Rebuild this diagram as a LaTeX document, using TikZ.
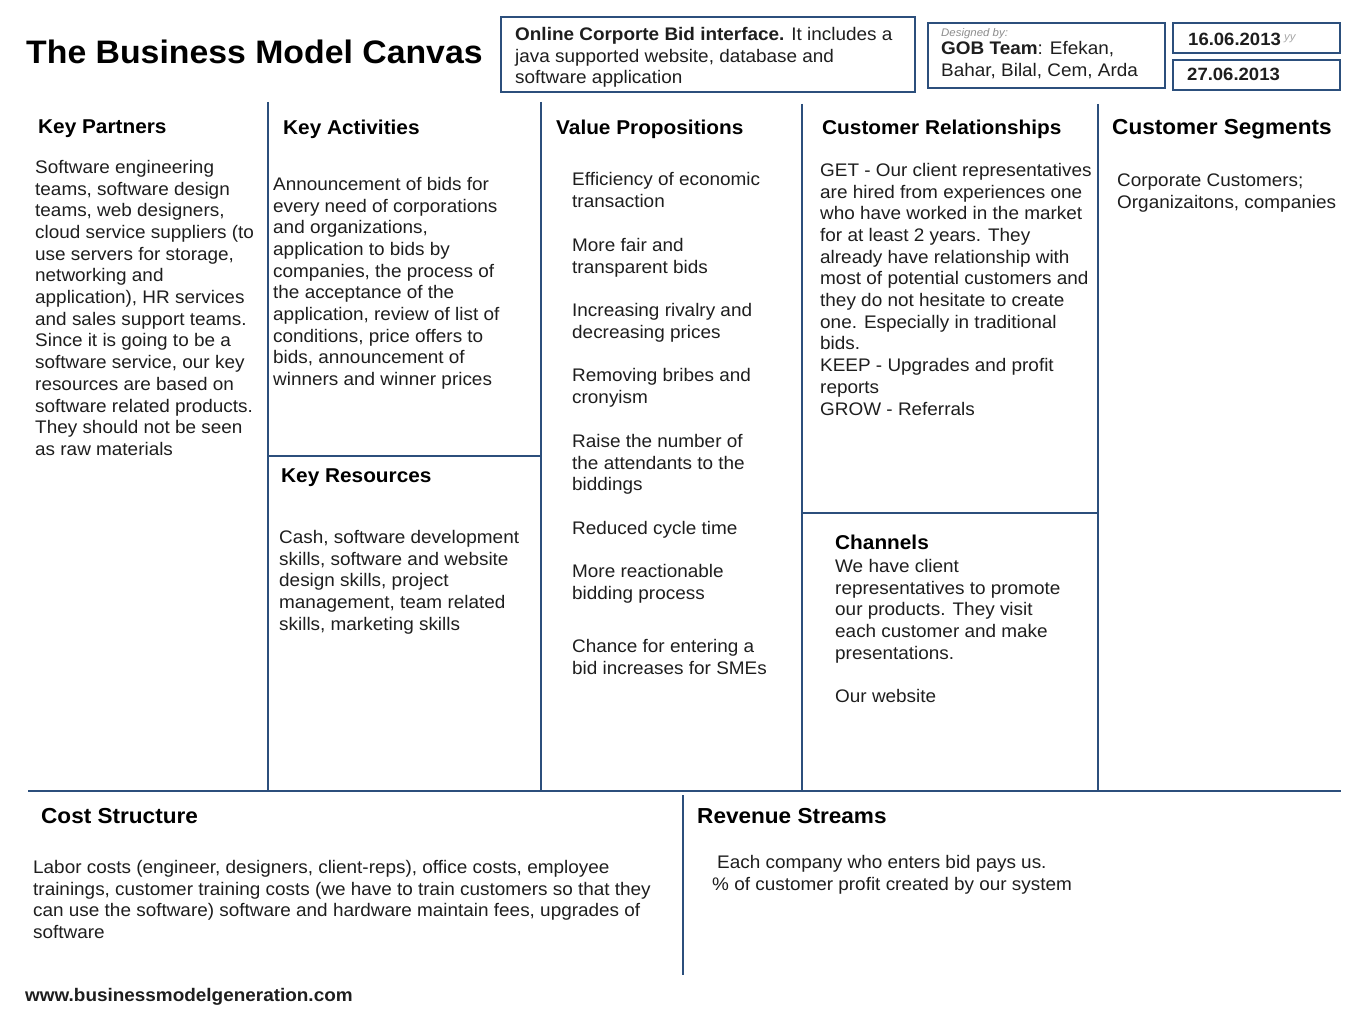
\documentclass[tikz,border=0pt]{standalone}
\usepackage{fontspec}
\setmainfont{Liberation Sans}[FakeStretch=1.04]
\definecolor{canvasline}{RGB}{44,79,124}
\definecolor{bodytext}{RGB}{30,30,30}
\begin{document}
\begin{tikzpicture}[x=1pt,y=-1pt,
  gridline/.style={draw=canvasline,line width=2.6pt},
  hbox/.style={draw=canvasline,line width=1.6pt},
  heading/.style={anchor=north west,inner sep=0pt,font=\fontsize{20}{24}\selectfont\bfseries,text=black},
  bigheading/.style={heading,font=\fontsize{21.7}{26}\selectfont\bfseries},
  body/.style={anchor=north west,inner sep=0pt,align=left,font=\fontsize{18.2}{21.7}\selectfont,text=bodytext},
  datetext/.style={anchor=north west,inner sep=0pt,font=\fontsize{17.8}{20}\selectfont\bfseries,text=bodytext}]
\useasboundingbox (0,0) rectangle (1365,1024);
\fill[white] (0,0) rectangle (1365,1024);

% title
\node[anchor=north west,inner sep=0pt,font=\fontsize{32.5}{38}\selectfont\bfseries] (title) at (26,40) {The Business Model Canvas};

% header boxes
\draw[hbox] (501,17) rectangle (915,92);
\node[body] (desc) at (515,27) {\textbf{Online Corporte Bid interface.} It includes a\\java supported website, database and\\software application};
\draw[hbox] (928,23) rectangle (1165,88);
\node[anchor=north west,inner sep=0pt,font=\fontsize{11}{12}\selectfont\itshape,text=black!45] (designed) at (941,28) {Designed by:};
\node[body] (team) at (941,41) {\textbf{GOB Team}: Efekan,\\Bahar, Bilal, Cem, Arda};
\draw[hbox] (1173,23) rectangle (1340,53);
\draw[hbox] (1173,60) rectangle (1340,90);
\node[anchor=north west,inner sep=0pt,font=\fontsize{11}{12}\selectfont\itshape,text=black!35] (ph1) at (1284,34) {yy};
\node[datetext] (d1) at (1188,33) {16.06.2013};
\node[datetext] (d2) at (1187,68) {27.06.2013};

% grid lines
\coordinate (v1t) at (268,102); \coordinate (v1b) at (268,791);
\coordinate (v2t) at (541,102); \coordinate (v2b) at (541,791);
\coordinate (v3t) at (802,104); \coordinate (v3b) at (802,791);
\coordinate (v4t) at (1098,104); \coordinate (v4b) at (1098,791);
\coordinate (hka) at (268,456); \coordinate (hkb) at (541,456);
\coordinate (hca) at (802,513); \coordinate (hcb) at (1098,513);
\coordinate (bl) at (28,791); \coordinate (br) at (1341,791);
\coordinate (v5t) at (683,795); \coordinate (v5b) at (683,975);
\draw[gridline] (v1t) -- (v1b);
\draw[gridline] (v2t) -- (v2b);
\draw[gridline] (v3t) -- (v3b);
\draw[gridline] (v4t) -- (v4b);
\draw[gridline] (hka) -- (hkb);
\draw[gridline] (hca) -- (hcb);
\draw[gridline] (bl) -- (br);
\draw[gridline] (v5t) -- (v5b);

% Key Partners
\node[heading] (kph) at (38,120) {Key Partners};
\node[body] (kpb) at (35,160) {Software engineering\\teams, software design\\teams, web designers,\\cloud service suppliers (to\\use servers for storage,\\networking and\\application), HR services\\and sales support teams.\\Since it is going to be a\\software service, our key\\resources are based on\\software related products.\\They should not be seen\\as raw materials};

% Key Activities
\node[heading] (kah) at (283,120) {Key Activities};
\node[body] (kab) at (273,177) {Announcement of bids for\\every need of corporations\\and organizations,\\application to bids by\\companies, the process of\\the acceptance of the\\application, review of list of\\conditions, price offers to\\bids, announcement of\\winners and winner prices};

% Key Resources
\node[heading] (krh) at (281,469) {Key Resources};
\node[body] (krb) at (279,530) {Cash, software development\\skills, software and website\\design skills, project\\management, team related\\skills, marketing skills};

% Value Propositions
\node[heading] (vph) at (556,120) {Value Propositions};
\node[body] (vp1) at (572,172) {Efficiency of economic\\transaction};
\node[body] (vp2) at (572,238) {More fair and\\transparent bids};
\node[body] (vp3) at (572,303) {Increasing rivalry and\\decreasing prices};
\node[body] (vp4) at (572,368) {Removing bribes and\\cronyism};
\node[body] (vp5) at (572,434) {Raise the number of\\the attendants to the\\biddings};
\node[body] (vp6) at (572,521) {Reduced cycle time};
\node[body] (vp7) at (572,564) {More reactionable\\bidding process};
\node[body] (vp8) at (572,639) {Chance for entering a\\bid increases for SMEs};

% Customer Relationships
\node[heading] (crh) at (822,120) {Customer Relationships};
\node[body] (crb) at (820,163) {GET - Our client representatives\\are hired from experiences one\\who have worked in the market\\for at least 2 years. They\\already have relationship with\\most of potential customers and\\they do not hesitate to create\\one. Especially in traditional\\bids.\\KEEP - Upgrades and profit\\reports\\GROW - Referrals};

% Channels
\node[heading] (chh) at (835,535) {Channels};
\node[body] (chb) at (835,559) {We have client\\representatives to promote\\our products. They visit\\each customer and make\\presentations.\\[21.7pt]Our website};

% Customer Segments
\node[bigheading] (csh) at (1112,119) {Customer Segments};
\node[body] (csb) at (1117,174) {Corporate Customers;\\Organizaitons, companies};

% Cost Structure
\node[bigheading] (cth) at (41,808) {Cost Structure};
\node[body] (ctb) at (33,860) {Labor costs (engineer, designers, client-reps), office costs, employee\\trainings, customer training costs (we have to train customers so that they\\can use the software) software and hardware maintain fees, upgrades of\\software};

% Revenue Streams
\node[bigheading] (rsh) at (697,808) {Revenue Streams};
\node[body] (rs1) at (717,855) {Each company who enters bid pays us.};
\node[body] (rs2) at (712,877) {\% of customer profit created by our system};

% footer
\node[anchor=north west,inner sep=0pt,font=\fontsize{18.2}{20}\selectfont\bfseries,text=bodytext] (footer) at (25,988) {www.businessmodelgeneration.com};
\end{tikzpicture}
\end{document}
